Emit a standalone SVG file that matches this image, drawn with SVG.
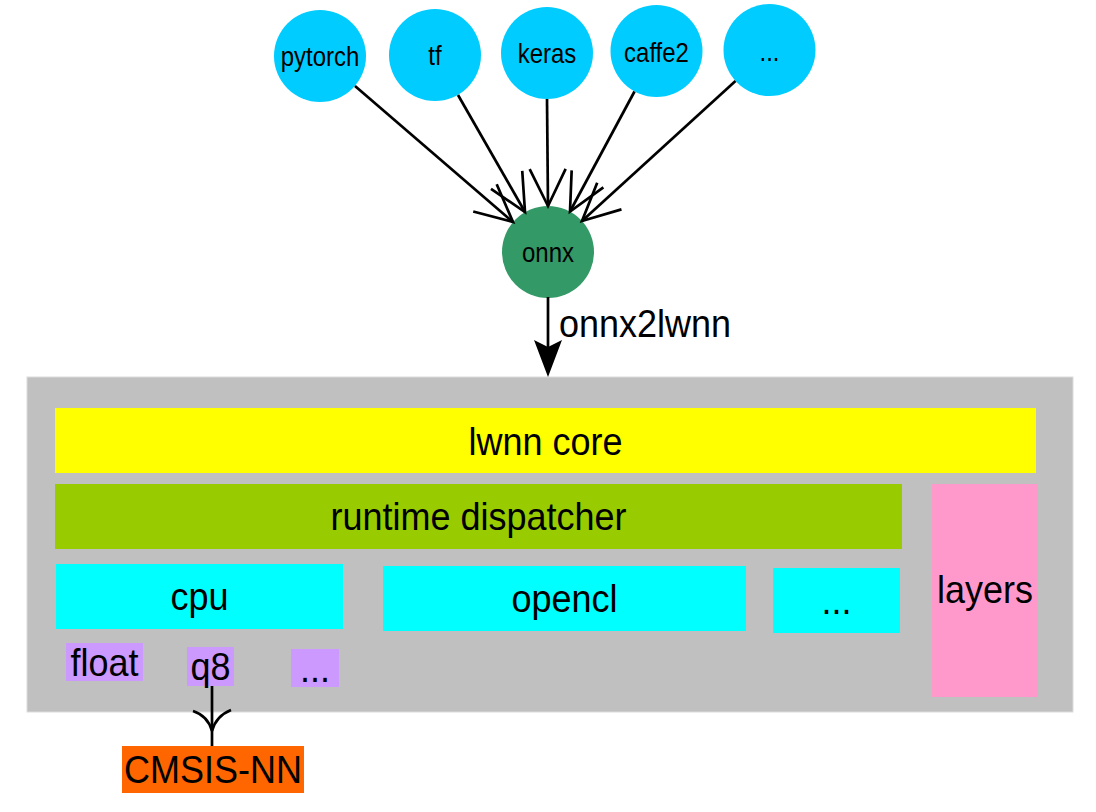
<svg xmlns="http://www.w3.org/2000/svg" width="1096" height="812" viewBox="0 0 1096 812">
<style>
text{font-family:"Liberation Sans",Arial,sans-serif;fill:#000;text-anchor:middle}
.s{font-size:24px}
.b{font-size:36px}
.src{fill:#00CCFF}
.conn{stroke:#000;stroke-width:2.7;fill:none}
</style>
<defs>
<marker id="openV" markerUnits="userSpaceOnUse" markerWidth="60" markerHeight="60" viewBox="-45 -30 60 60" refX="0" refY="0" orient="auto" overflow="visible">
<path d="M-37,-18 L0,0 L-37,18" fill="none" stroke="#000" stroke-width="2.7"/>
</marker>
</defs>
<rect width="1096" height="812" fill="#fff"/>

<g id="node-container">
<rect x="27" y="377" width="1046" height="335" fill="#C0C0C0" stroke="#DCDCDC" stroke-width="1"/>
</g>
<g id="node-lwnn-core">
<rect x="55" y="408" width="981" height="65" fill="#FFFF00"/>
<text class="b" transform="translate(545.5,455) scale(1,1.06)">lwnn core</text>
</g>
<g id="node-runtime-dispatcher">
<rect x="55" y="484" width="847" height="65" fill="#99CC00"/>
<text class="b" transform="translate(478.5,530) scale(1,1.06)">runtime dispatcher</text>
</g>
<g id="node-layers">
<rect x="932" y="484" width="106" height="213" fill="#FF99CC"/>
<text class="b" transform="translate(985,603) scale(1,1.06)">layers</text>
</g>
<g id="node-cpu">
<rect x="56" y="564" width="287" height="65" fill="#00FFFF"/>
<text class="b" transform="translate(199.5,610) scale(1,1.06)">cpu</text>
</g>
<g id="node-opencl">
<rect x="383" y="566" width="363" height="65" fill="#00FFFF"/>
<text class="b" transform="translate(564.5,612) scale(1,1.06)">opencl</text>
</g>
<g id="node-more-backends">
<rect x="773" y="568" width="127" height="65" fill="#00FFFF"/>
<text class="b" transform="translate(836.5,614) scale(1,1.06)">...</text>
</g>
<g id="node-float">
<rect x="66" y="643" width="77" height="38" fill="#CC99FF"/>
<text class="b" transform="translate(104.5,676) scale(1,1.06)">float</text>
</g>
<g id="node-q8">
<rect x="187" y="647" width="47" height="39" fill="#CC99FF"/>
<text class="b" transform="translate(210.5,680) scale(1,1.06)">q8</text>
</g>
<g id="node-more-types">
<rect x="291" y="649" width="48" height="38" fill="#CC99FF"/>
<text class="b" transform="translate(315,682) scale(1,1.06)">...</text>
</g>
<g id="node-cmsis-nn">
<rect x="122" y="746" width="182" height="47" fill="#FF6600"/>
<text class="b" transform="translate(213,783) scale(1,1.06)">CMSIS-NN</text>
</g>

<g id="node-pytorch">
<circle class="src" cx="320" cy="56" r="46"/>
<text class="s" transform="translate(320,65.5) scale(1,1.12)">pytorch</text>
</g>
<g id="node-tf">
<circle class="src" cx="435" cy="55" r="46"/>
<text class="s" transform="translate(435,65) scale(1,1.12)">tf</text>
</g>
<g id="node-keras">
<circle class="src" cx="547" cy="53" r="46"/>
<text class="s" transform="translate(547,63) scale(1,1.12)">keras</text>
</g>
<g id="node-caffe2">
<circle class="src" cx="656.5" cy="51" r="46"/>
<text class="s" transform="translate(656.5,62) scale(1,1.12)">caffe2</text>
</g>
<g id="node-more-frameworks">
<circle class="src" cx="769.5" cy="50" r="46"/>
<text class="s" transform="translate(769.5,61) scale(1,1.12)">...</text>
</g>
<g id="node-onnx">
<circle cx="548" cy="252" r="46" fill="#339966"/>
<text class="s" transform="translate(548,262) scale(1,1.12)">onnx</text>
</g>

<g id="connectors">
<line class="conn" x1="355" y1="86" x2="513" y2="222" marker-end="url(#openV)"/>
<line class="conn" x1="458" y1="95" x2="525" y2="212" marker-end="url(#openV)"/>
<line class="conn" x1="547" y1="99" x2="548" y2="206" marker-end="url(#openV)"/>
<line class="conn" x1="634.5" y1="91.5" x2="570" y2="211.5" marker-end="url(#openV)"/>
<line class="conn" x1="735.5" y1="81" x2="582" y2="221" marker-end="url(#openV)"/>
<line class="conn" x1="548" y1="297" x2="548" y2="350"/>
<path d="M548,377 L534,340 L548,347 L562,340 Z" fill="#000"/>
<text transform="translate(559,337) scale(1,1.06)" style="font-size:36px;text-anchor:start">onnx2lwnn</text>
<line class="conn" x1="212" y1="686" x2="212" y2="746"/>
<path class="conn" d="M193,711 Q208,716 212,731 M231,710 Q216,716 212,731"/>
</g>
</svg>
